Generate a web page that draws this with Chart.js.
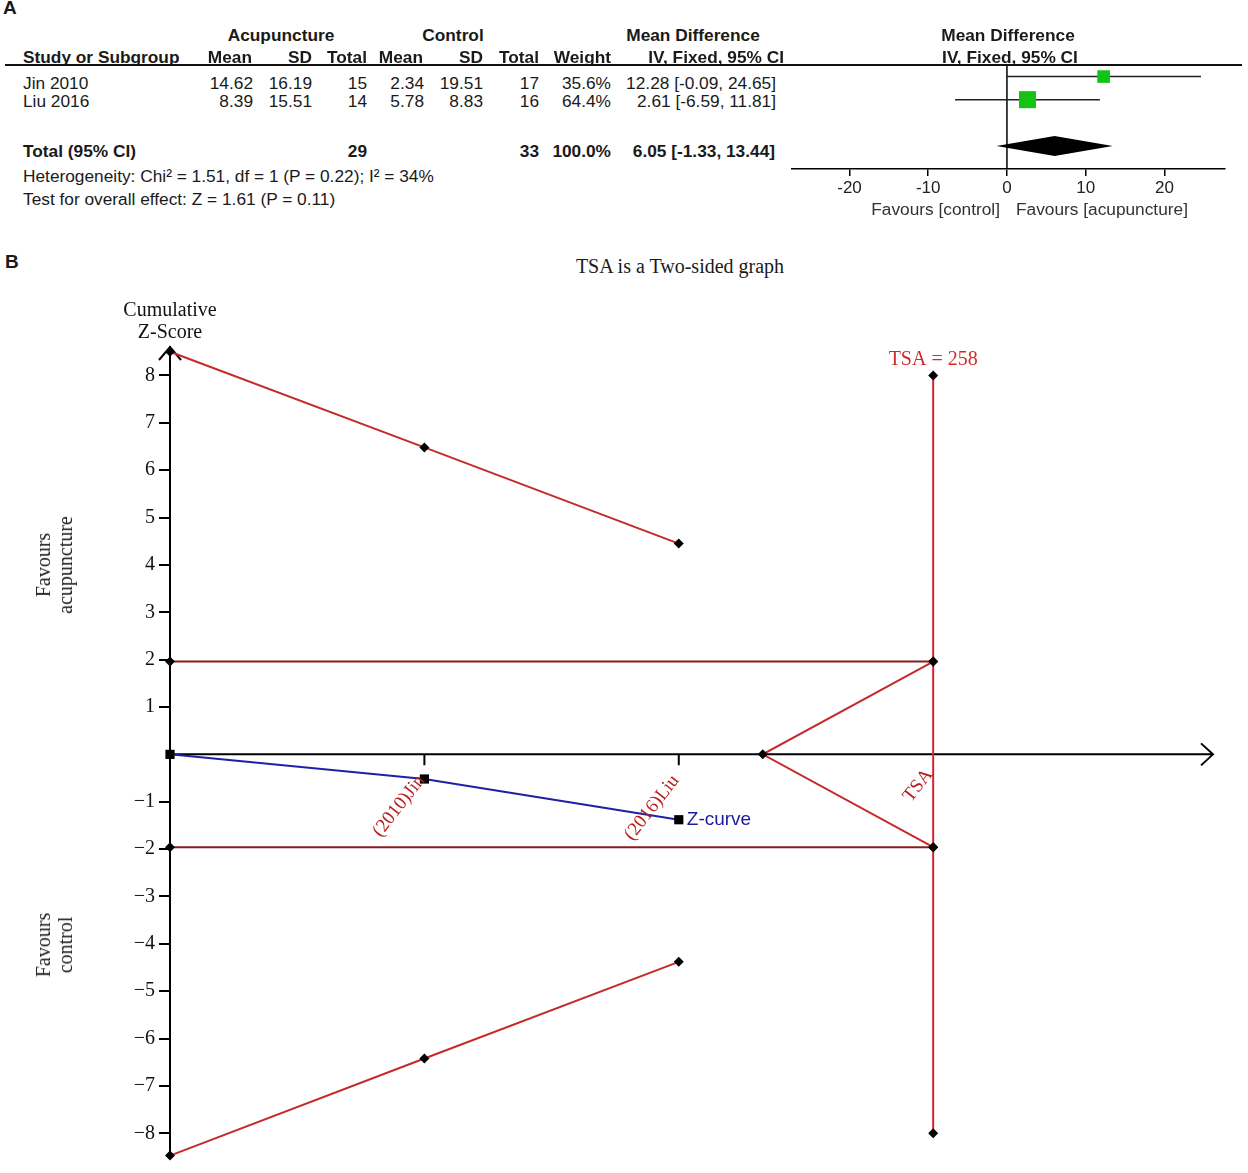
<!DOCTYPE html>
<html>
<head>
<meta charset="utf-8">
<script src="https://cdn.jsdelivr.net/npm/chart.js@4.4.1/dist/chart.umd.min.js"></script>
<style>
  html, body { margin: 0; padding: 0; background: #fff; }
  #page { position: relative; width: 1248px; height: 1173px; overflow: hidden; font-family: "Liberation Sans", Arial, sans-serif; color: #1a1a1a; }
  .t { position: absolute; font-size: 17.3px; line-height: 20px; white-space: nowrap; }
  .b { font-weight: bold; }
  .serif { font-family: "Liberation Serif", "Times New Roman", serif; }
  canvas { position: absolute; }
  #forest { left: 780px; top: 40px; }
  #tsa { left: 0px; top: 290px; }
</style>
</head>
<body>
<div id="page">
  <canvas id="forest" width="468" height="180"></canvas>
  <canvas id="tsa" width="1248" height="883"></canvas>
</div>
<script>
// ---- panel A: forest plot data ----
const studies = ['Jin 2010', 'Liu 2016'];
const acuMean = [14.62, 8.39];
const acuSD = [16.19, 15.51];
const acuN = [15, 14];
const ctlMean = [2.34, 5.78];
const ctlSD = [19.51, 8.83];
const ctlN = [17, 16];
const weights = [35.6, 64.4];
const md = [12.28, 2.61];
const ciLow = [-0.09, -6.59];
const ciHigh = [24.65, 11.81];
const totalN = [29, 33];
const totalMD = [6.05, -1.33, 13.44]; // estimate, low, high
const mdTicks = [-20, -10, 0, 10, 20];

// ---- panel B: trial sequential analysis data ----
const trialLabels = ['(2010)Jin', '(2016)Liu'];
const infoPos = [0, 1, 2];            // start + cumulative trials on the information axis
const zCurve = [0, -0.52, -1.38];
const upperBound = [8.5, 6.48, 4.45];
const lowerBound = [-8.47, -6.42, -4.38];
const conventionalZ = 1.96;
const futilityStart = 2.33;
const tsaPos = 3;
const tsaSpan = [8, -8];
const tsaLabel = 'TSA = 258';
const zTicks = [-8, -7, -6, -5, -4, -3, -2, -1, 1, 2, 3, 4, 5, 6, 7, 8];

const SANS = '"Liberation Sans", Arial, sans-serif';
const SERIF = '"Liberation Serif", "Times New Roman", serif';
const page = document.getElementById('page');

function put(text, x, y, align, cls) {
  const d = document.createElement('div');
  d.className = 't ' + (cls || '');
  d.textContent = text;
  d.style.top = (y - 10) + 'px';
  if (align === 'right') d.style.right = (1248 - x) + 'px';
  else if (align === 'center') { d.style.left = x + 'px'; d.style.transform = 'translateX(-50%)'; }
  else d.style.left = x + 'px';
  page.appendChild(d);
  return d;
}

// panel letters
put('A', 3, 8, 'left', 'b').style.fontSize = '19px';
put('B', 5, 262, 'left', 'b').style.fontSize = '19px';

// table headers
put('Acupuncture', 281, 35, 'center', 'b');
put('Control', 453, 35, 'center', 'b');
put('Mean Difference', 693, 35, 'center', 'b');
put('Mean Difference', 1008, 35, 'center', 'b');
put('Study or Subgroup', 23, 57, 'left', 'b');
const headRight = [252, 312, 367, 423, 483, 539, 611, 784];
['Mean', 'SD', 'Total', 'Mean', 'SD', 'Total', 'Weight', 'IV, Fixed, 95% CI']
  .forEach((h, i) => put(h, headRight[i], 57, 'right', 'b'));
put('IV, Fixed, 95% CI', 1010, 57, 'center', 'b');

// header rule
const rule = document.createElement('div');
rule.style.cssText = 'position:absolute;left:5px;top:64px;width:1237px;height:2px;background:#111;';
page.appendChild(rule);

// study rows
const colRight = [253, 312, 367, 424, 483, 539, 611, 776];
const rowY = [83, 101];
const fmtCI = (m, l, h) => m.toFixed(2) + ' [' + l.toFixed(2) + ', ' + h.toFixed(2) + ']';
studies.forEach((s, i) => {
  put(s, 23, rowY[i], 'left');
  const cells = [acuMean[i].toFixed(2), acuSD[i].toFixed(2), String(acuN[i]),
                 ctlMean[i].toFixed(2), ctlSD[i].toFixed(2), String(ctlN[i]),
                 weights[i].toFixed(1) + '%', fmtCI(md[i], ciLow[i], ciHigh[i])];
  cells.forEach((c, j) => put(c, colRight[j], rowY[i], 'right'));
});
put('Total (95% CI)', 23, 151, 'left', 'b');
put(String(totalN[0]), colRight[2], 151, 'right', 'b');
put(String(totalN[1]), colRight[5], 151, 'right', 'b');
put(weights.reduce((a, b) => a + b, 0).toFixed(1) + '%', colRight[6], 151, 'right', 'b');
put(fmtCI(totalMD[0], totalMD[1], totalMD[2]), 775, 151, 'right', 'b');
put('Heterogeneity: Chi\u00b2 = 1.51, df = 1 (P = 0.22); I\u00b2 = 34%', 23, 176, 'left');
put('Test for overall effect: Z = 1.61 (P = 0.11)', 23, 199, 'left');
put('Favours [control]', 1000, 209, 'right').style.color = '#333';
put('Favours [acupuncture]', 1016, 209, 'left').style.color = '#333';

// panel B html text
const title = put('TSA is a Two-sided graph', 680, 266, 'center', 'serif');
title.style.fontSize = '20px';
function sideLabel(html, cx, cy) {
  const d = document.createElement('div');
  d.className = 't serif';
  d.innerHTML = html;
  d.style.cssText += 'left:' + cx + 'px;top:' + cy + 'px;font-size:20px;line-height:22px;text-align:center;transform:translate(-50%,-50%) rotate(-90deg);color:#222;';
  page.appendChild(d);
}
sideLabel('Favours<br>acupuncture', 54, 565);
sideLabel('Favours<br>control', 54, 945);

// ---- forest chart ----
const diamondPlugin = {
  id: 'diamond',
  afterDatasetsDraw(chart) {
    const { ctx, scales: { x, y } } = chart;
    const cy = y.getPixelForValue(studies.length + 2);
    ctx.save();
    ctx.fillStyle = '#000';
    ctx.beginPath();
    ctx.moveTo(x.getPixelForValue(totalMD[1]), cy);
    ctx.lineTo(x.getPixelForValue(totalMD[0]), cy - 10);
    ctx.lineTo(x.getPixelForValue(totalMD[2]), cy);
    ctx.lineTo(x.getPixelForValue(totalMD[0]), cy + 10);
    ctx.closePath();
    ctx.fill();
    ctx.restore();
  }
};

new Chart(document.getElementById('forest'), {
  type: 'scatter',
  data: {
    datasets: [
      {
        data: md.map((m, i) => ({ x: m, y: i + 1 })),
        pointStyle: 'rect',
        pointRadius: weights.map(w => 1.5 * Math.sqrt(w)),
        backgroundColor: '#14c414',
        borderWidth: 0
      },
      ...studies.map((s, i) => ({
        data: [{ x: ciLow[i], y: i + 1 }, { x: ciHigh[i], y: i + 1 }],
        showLine: true, pointRadius: 0, borderColor: '#222', borderWidth: 1.5
      })),
      {
        data: [{ x: 0, y: 0.5 }, { x: 0, y: 5 }],
        showLine: true, pointRadius: 0, borderColor: '#000', borderWidth: 1.5
      }
    ]
  },
  options: {
    responsive: false,
    animation: false,
    layout: { padding: { top: 25, left: 12, right: 23, bottom: 0 } },
    plugins: { legend: { display: false }, tooltip: { enabled: false } },
    scales: {
      x: {
        type: 'linear', min: -27.3, max: 27.7,
        afterFit: s => { s.height = 51; },
        afterBuildTicks: s => { s.ticks = mdTicks.map(v => ({ value: v })); },
        grid: { drawOnChartArea: false, tickLength: 7, color: '#000', lineWidth: 1.5 },
        border: { color: '#000', width: 1.5 },
        ticks: { font: { family: SANS, size: 17 }, color: '#222', padding: 2, maxRotation: 0 }
      },
      y: { display: false, min: 0.5, max: 5, reverse: true }
    }
  },
  plugins: [diamondPlugin]
});

// ---- TSA chart ----
const tsaDecor = {
  id: 'tsaDecor',
  beforeDatasetsDraw(chart) {
    const { ctx, chartArea: a, scales: { x, y } } = chart;
    const y0 = y.getPixelForValue(0);
    ctx.save();
    ctx.strokeStyle = '#000';
    ctx.lineWidth = 2;
    ctx.beginPath();
    ctx.moveTo(a.left, y0); ctx.lineTo(a.right, y0);
    ctx.moveTo(a.right - 12, y0 - 11); ctx.lineTo(a.right, y0); ctx.lineTo(a.right - 12, y0 + 11);
    ctx.moveTo(a.left - 11, a.top + 13); ctx.lineTo(a.left, a.top); ctx.lineTo(a.left + 11, a.top + 13);
    infoPos.slice(1).forEach(p => {
      const px = x.getPixelForValue(p);
      ctx.moveTo(px, y0); ctx.lineTo(px, y0 + 11);
    });
    ctx.stroke();
    ctx.restore();
  },
  afterDatasetsDraw(chart) {
    const { ctx, chartArea: a, scales: { x, y } } = chart;
    const y0 = y.getPixelForValue(0);
    const ang = -52 * Math.PI / 180;
    ctx.save();
    ctx.textBaseline = 'middle';
    // rotated trial labels
    ctx.font = '19px ' + SERIF;
    ctx.fillStyle = '#b81e1e';
    trialLabels.forEach((t, i) => {
      const px = x.getPixelForValue(infoPos[i + 1]);
      ctx.save();
      ctx.translate(px - 3, y0 + 23);
      ctx.rotate(ang);
      ctx.textAlign = 'right';
      ctx.fillText(t, 0, 0);
      ctx.restore();
    });
    const tx = x.getPixelForValue(tsaPos);
    ctx.save();
    ctx.translate(tx - 4, y0 + 17);
    ctx.rotate(ang);
    ctx.textAlign = 'right';
    ctx.fillText('TSA', 0, 0);
    ctx.restore();
    // TSA = 258
    ctx.font = '20px ' + SERIF;
    ctx.fillStyle = '#d42a2a';
    ctx.textAlign = 'center';
    ctx.fillText(tsaLabel, tx, y.getPixelForValue(tsaSpan[0]) - 16);
    // Z-curve label
    const last = zCurve.length - 1;
    ctx.font = '19px ' + SANS;
    ctx.fillStyle = '#1a1aa0';
    ctx.textAlign = 'left';
    ctx.fillText('Z-curve', x.getPixelForValue(infoPos[last]) + 8, y.getPixelForValue(zCurve[last]));
    // axis title
    ctx.font = '20px ' + SERIF;
    ctx.fillStyle = '#111';
    ctx.textAlign = 'center';
    ctx.fillText('Cumulative', a.left, a.top - 36);
    ctx.fillText('Z-Score', a.left, a.top - 14);
    ctx.restore();
  }
};

const diamondPts = { pointStyle: 'rectRot', pointRadius: 5, pointBackgroundColor: '#000', pointBorderWidth: 0 };
const BOUND = '#c42a2a';
new Chart(document.getElementById('tsa'), {
  type: 'scatter',
  data: {
    datasets: [
      {
        data: infoPos.map((p, i) => ({ x: p, y: zCurve[i] })),
        showLine: true, borderColor: '#1f1fa8', borderWidth: 2,
        pointStyle: 'rect', pointRadius: 6.5, pointBackgroundColor: '#000', pointBorderWidth: 0, clip: false
      },
      {
        data: infoPos.map((p, i) => ({ x: p, y: upperBound[i] })),
        showLine: true, borderColor: BOUND, borderWidth: 2, clip: false, ...diamondPts
      },
      {
        data: infoPos.map((p, i) => ({ x: p, y: lowerBound[i] })),
        showLine: true, borderColor: BOUND, borderWidth: 2, clip: false, ...diamondPts
      },
      {
        data: [{ x: infoPos[0], y: conventionalZ }, { x: tsaPos, y: conventionalZ }],
        showLine: true, borderColor: '#8a1c1c', borderWidth: 2, clip: false, ...diamondPts
      },
      {
        data: [{ x: infoPos[0], y: -conventionalZ }, { x: tsaPos, y: -conventionalZ }],
        showLine: true, borderColor: '#8a1c1c', borderWidth: 2, clip: false, ...diamondPts
      },
      {
        data: [{ x: tsaPos, y: conventionalZ }, { x: futilityStart, y: 0 }, { x: tsaPos, y: -conventionalZ }],
        showLine: true, borderColor: BOUND, borderWidth: 2, clip: false, ...diamondPts
      },
      {
        data: tsaSpan.map(v => ({ x: tsaPos, y: v })),
        showLine: true, borderColor: '#d62433', borderWidth: 2, clip: false, ...diamondPts
      }
    ]
  },
  options: {
    responsive: false,
    animation: false,
    layout: { padding: { top: 57, bottom: 10, left: 0, right: 35 } },
    plugins: { legend: { display: false }, tooltip: { enabled: false } },
    scales: {
      x: { type: 'linear', display: false, min: 0, max: 4.1 },
      y: {
        type: 'linear', min: -8.5, max: 8.6,
        afterFit: s => { s.width = 170; },
        afterBuildTicks: s => { s.ticks = zTicks.map(v => ({ value: v })); },
        grid: { drawOnChartArea: false, drawTicks: true, tickLength: 11, color: '#000', lineWidth: 2 },
        border: { display: true, color: '#000', width: 2 },
        ticks: {
          font: { family: SERIF, size: 20 }, color: '#111', padding: 4, autoSkip: false,
          callback: v => (v < 0 ? '\u2212' + Math.abs(v) : String(v))
        }
      }
    }
  },
  plugins: [tsaDecor]
});
</script>
</body>
</html>
